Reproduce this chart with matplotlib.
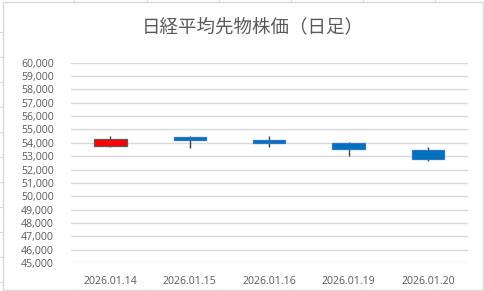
import matplotlib.pyplot as plt
from matplotlib.lines import Line2D
from matplotlib.patches import Rectangle
import numpy as np

plt.rcParams['font.family'] = ['Open Sans', 'Noto Sans CJK JP', 'DejaVu Sans']

# 日足データ
dates = ['2026.01.14', '2026.01.15', '2026.01.16', '2026.01.19', '2026.01.20']
opens = [53740, 54410, 54210, 53990, 53460]
highs = [54510, 54510, 54510, 54080, 53690]
lows = [53660, 53630, 53710, 53030, 52660]
closes = [54260, 54190, 54010, 53560, 52760]
y_ticks = list(range(45000, 60001, 1000))

up_color = '#FF0000'
down_color = '#0070C0'
text_color = '#595959'

W, H = 484, 291
fig = plt.figure(figsize=(W / 100, H / 100), dpi=100)

# Excelのセル枠線（背景）
for x in [74, 147, 219, 291, 363, 435]:
    fig.add_artist(Line2D([x / W, x / W], [1 - 2 / H, 1], color='#D9D9D9', lw=0.8))
    fig.add_artist(Line2D([x / W, x / W], [0, 1 / H], color='#D9D9D9', lw=0.8))
for y in np.arange(31.7, 291, 25):
    fig.add_artist(Line2D([0, 2.5 / W], [1 - y / H, 1 - y / H], color='#D9D9D9', lw=0.8))

# グラフエリアの枠
fig.add_artist(Rectangle((3 / W, 1 - 289.5 / H), 479.5 / W, 288 / H, transform=fig.transFigure,
                         facecolor='white', edgecolor='#D9D9D9', lw=1, zorder=0))

ax = fig.add_axes([70.7 / W, 1 - 263 / H, 397 / W, 200.3 / H])
ax.set_facecolor('none')

xs = np.arange(len(dates))
bottoms = [min(o, c) for o, c in zip(opens, closes)]
heights = [abs(c - o) for o, c in zip(opens, closes)]
colors = [up_color if c > o else down_color for o, c in zip(opens, closes)]
edges = ['#595959' if c > o else '#2E75C6' for o, c in zip(opens, closes)]

ax.vlines(xs, lows, highs, color='#404040', lw=1, zorder=2)
ax.bar(xs, heights, bottom=bottoms, width=0.41, color=colors, edgecolor=edges, lw=0.9, zorder=3)

ax.set_xlim(-0.5, len(dates) - 0.5)
ax.set_ylim(45000, 60000)
ax.set_yticks(y_ticks)
ax.set_yticklabels([f'{v:,}' for v in y_ticks])
ax.set_xticks(xs)
ax.set_xticklabels(dates)
ax.grid(axis='y', color='#D9D9D9', lw=1)
ax.set_axisbelow(True)
for s in ax.spines.values():
    s.set_visible(False)
ax.tick_params(length=0, labelsize=7.6, colors=text_color)
ax.tick_params(axis='y', pad=12)
ax.tick_params(axis='x', pad=9)

fig.text(253 / W, 1 - 27 / H, '日経平均先物株価（日足）', ha='center', va='center',
         fontsize=13.3, color=text_color, family=['Noto Sans CJK JP', 'DejaVu Sans'])

fig.savefig('out.png', dpi=100)
